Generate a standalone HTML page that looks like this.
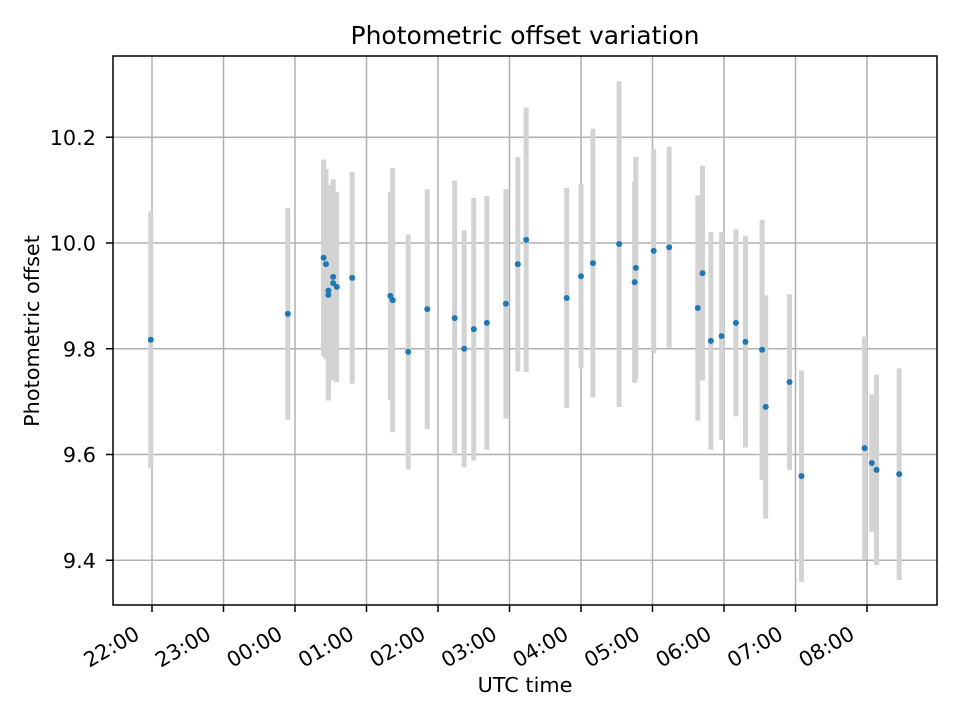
<!DOCTYPE html>
<html><head><meta charset="utf-8"><style>
body{margin:0;background:#fff;}
svg text{font-family:"DejaVu Sans","Liberation Sans",sans-serif;fill:#000;}
</style></head><body>
<svg id="chart" width="960" height="720" xmlns="http://www.w3.org/2000/svg">
<rect width="960" height="720" fill="#fff"/>
<g id="grid"></g><g id="bars"></g><g id="pts"></g><g id="axes"></g>
<text x="525" y="44" font-size="25" text-anchor="middle">Photometric offset variation</text>
<text x="525" y="692" font-size="20.8" text-anchor="middle">UTC time</text>
<text transform="translate(39,331) rotate(-90)" font-size="20.8" text-anchor="middle">Photometric offset</text>
</svg>
<script>
const times=["21:59","23:54","00:24","00:26","00:28","00:28","00:32","00:32","00:35","00:48","01:20","01:22","01:35","01:51","02:14","02:22","02:30","02:41","02:57","03:07","03:14","03:48","04:00","04:10","04:32","04:46","04:45","05:01","05:14","05:38","05:42","05:49","05:58","06:10","06:18","06:32","06:35","06:55","07:05","07:58","08:04","08:08","08:27"];
const offsets=[9.817,9.866,9.972,9.96,9.91,9.902,9.936,9.924,9.917,9.934,9.9,9.892,9.794,9.875,9.858,9.8,9.837,9.849,9.885,9.96,10.006,9.896,9.937,9.962,9.998,9.953,9.926,9.985,9.992,9.877,9.943,9.815,9.824,9.849,9.813,9.798,9.69,9.737,9.559,9.612,9.584,9.571,9.563];
const errors=[0.243,0.2,0.186,0.18,0.2,0.2,0.184,0.184,0.18,0.2,0.197,0.25,0.222,0.227,0.26,0.224,0.248,0.24,0.217,0.203,0.25,0.208,0.174,0.254,0.308,0.21,0.19,0.193,0.19,0.213,0.203,0.206,0.197,0.177,0.2,0.246,0.211,0.166,0.2,0.211,0.13,0.18,0.2];
const xTicks=["22:00","23:00","00:00","01:00","02:00","03:00","04:00","05:00","06:00","07:00","08:00"];
const yTicks=[9.4,9.6,9.8,10.0,10.2];
const NS="http://www.w3.org/2000/svg";
const L=113,R=937,T=56,B=605;
function hrs(t){let [h,m]=t.split(":").map(Number);if(h<12)h+=24;return h+m/60-22;}
function X(t){return 152+hrs(t)*71.5;}
function Y(v){return 243-(v-10)*528.75;}
function mk(p,tag,a){const e=document.createElementNS(NS,tag);for(const k in a)e.setAttribute(k,a[k]);p.appendChild(e);return e;}
const grid=document.getElementById('grid'),bars=document.getElementById('bars'),pts=document.getElementById('pts'),axes=document.getElementById('axes');
xTicks.forEach(t=>{const x=X(t);
 const g=mk(grid,'line',{x1:x,x2:x,y1:T,y2:B,stroke:'#b0b0b0','stroke-width':1.5});
 
 const tk=mk(axes,'line',{x1:x,x2:x,y1:B,y2:B+7,stroke:'#000','stroke-width':1.5});
 
 const tx=mk(axes,'text',{transform:`translate(${x-11},${B+33}) rotate(-30)`,'font-size':20.8,'text-anchor':'end'});
 tx.textContent=t;
});
yTicks.forEach(v=>{const y=Y(v);
 const g=mk(grid,'line',{x1:L,x2:R,y1:y,y2:y,stroke:'#b0b0b0','stroke-width':1.5});
 
 const tk=mk(axes,'line',{x1:L-7,x2:L,y1:y,y2:y,stroke:'#000','stroke-width':1.5});
 
 const tx=mk(axes,'text',{x:L-17,y:y+7.5,'font-size':20.8,'text-anchor':'end'});
 tx.textContent=v.toFixed(1);
});
times.forEach((t,i)=>{const x=X(t);
 const b=mk(bars,'line',{x1:x,x2:x,y1:Y(offsets[i]+errors[i]),y2:Y(offsets[i]-errors[i]),stroke:'#d3d3d3','stroke-width':5});
 
});
times.forEach((t,i)=>{
 const c=mk(pts,'circle',{cx:X(t),cy:Y(offsets[i]),r:3,fill:'#1f77b4'});
 
});
const fr=mk(axes,'rect',{x:L,y:T,width:R-L,height:B-T,fill:'none',stroke:'#000','stroke-width':1.5});

</script>
</body></html>
